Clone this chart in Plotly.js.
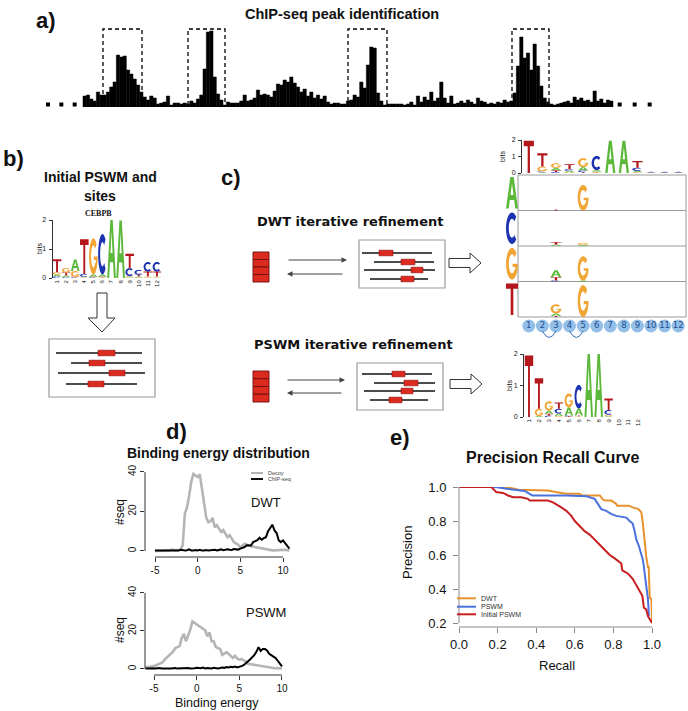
<!DOCTYPE html>
<html>
<head>
<meta charset="utf-8">
<script src="https://cdn.plot.ly/plotly-3.0.1.min.js"></script>
<style>html,body{margin:0;padding:0;background:#ffffff;}#chart{width:688px;height:711px;}</style>
</head>
<body>
<div id="chart"></div>
<script>
// ================= DATA =================
// a) ChIP-seq read pile-up (arbitrary counts per bin)
const peakCounts=[11,12,8,6,15,12,12,15,20,25,52,50,51,37,33,28,22,15,10,7,11,9,3,4,5,11,2,4,4,3,4,3,6,4,8,12,38,75,76,30,13,7,2,5,4,4,4,6,12,6,7,9,17,12,13,12,10,16,23,22,27,25,30,24,20,15,18,11,15,9,12,8,11,5,3,4,4,3,3,6,7,12,10,25,19,42,60,59,14,6,2,3,3,3,3,3,2,3,5,2,11,5,10,7,15,6,9,25,9,4,11,3,4,6,4,7,5,3,9,6,5,3,4,3,5,4,7,5,6,14,41,70,49,54,37,63,41,21,9,5,3,2,3,4,5,6,4,10,7,9,6,7,5,16,6,8,4,7,6];
// identified peak windows (bin index start, end)
const peakWindows=[[5.5,17.2],[31.0,42.1],[79.0,90.7],[128.2,139.3]];

const logoPositions=[1,2,3,4,5,6,7,8,9,10,11,12];
const letters=['A','C','G','T'];

// b) initial PSWM (CEBPB), information (bits) per letter
const cebpbA=[0.07,0.06,0.40,0.02,0.08,0.08,2.00,1.98,0.03,0.03,0.02,0.02];
const cebpbC=[0.05,0.03,0.02,0.10,0.02,1.40,0.00,0.00,0.28,0.17,0.33,0.33];
const cebpbG=[0.08,0.15,0.20,0.02,1.25,0.02,0.00,0.00,0.03,0.02,0.03,0.03];
const cebpbT=[0.45,0.10,0.02,1.20,0.02,0.02,0.00,0.00,0.50,0.06,0.17,0.17];

// c) DWT refined logo
const dwtA=[0.00,0.05,0.15,0.08,0.20,0.10,1.95,1.95,0.08,0.02,0.02,0.02];
const dwtC=[0.00,0.05,0.06,0.10,0.10,0.85,0.00,0.00,0.20,0.02,0.02,0.02];
const dwtG=[0.00,0.30,0.28,0.05,0.55,0.04,0.00,0.00,0.04,0.02,0.02,0.02];
const dwtT=[1.95,0.80,0.10,0.30,0.05,0.04,0.00,0.00,0.40,0.02,0.02,0.02];

// c) DWT dependency rows: [row letter at position 1, position, letter, height (fraction of row)]
const dwtDepRows=['A','C','G','T'];
const dwtDepCells=[
 ['A',3,'T',0.03],['A',5,'G',0.72],
 ['C',3,'A',0.04],['C',3,'T',0.07],['C',5,'A',0.03],['C',5,'G',0.06],
 ['G',3,'C',0.03],['G',3,'T',0.09],['G',3,'A',0.20],['G',5,'A',0.03],['G',5,'G',0.68],
 ['T',3,'T',0.03],['T',3,'A',0.07],['T',3,'G',0.26],['T',5,'G',0.90]
];
const dwtDepArcs=[[2,3],[4,5]];

// c) PSWM refined logo
const pswmA=[0.00,0.03,0.10,0.08,0.25,0.22,2.00,2.00,0.02,0,0,0];
const pswmC=[0.00,0.00,0.04,0.15,0.03,0.75,0,0,0.15,0,0,0];
const pswmG=[0.00,0.23,0.30,0.03,0.45,0.02,0,0,0.05,0,0,0];
const pswmT=[1.95,0.97,0.06,0.20,0.02,0.03,0,0,0.37,0,0,0];

// d) binding energy distributions
const energyDwt=[-5,-4.75,-4.5,-4.25,-4,-3.75,-3.5,-3.25,-3,-2.75,-2.5,-2.25,-2,-1.75,-1.5,-1.25,-1,-0.75,-0.5,-0.25,0,0.25,0.5,0.75,1,1.25,1.5,1.75,2,2.25,2.5,2.75,3,3.25,3.5,3.75,4,4.25,4.5,4.75,5,5.25,5.5,5.75,6,6.25,6.5,6.75,7,7.25,7.5,7.75,8,8.25,8.5,8.75,9,9.25,9.5,9.75,10,10.25,10.5,10.75];
const decoyDwt=[0,0,0.2,0.1,0.3,0.2,0.4,0.3,0.8,0.4,0.5,0.4,0.8,3,19,22,28,35,39,38,37.5,38.8,31,24,17,14.5,15,16.8,12,13,11,9.6,10.6,9,7,8,6,4.5,3.8,3.2,1.7,2.5,3.7,3.2,2.6,2.4,2.2,2,1.7,1.4,1.2,1,0.8,0.6,0.3,0.3,0.3,0.4,0.3,0.5,0.7,0.6,0.4,0.3];
const chipDwt=[0.2,0.2,0.3,0.2,0.3,0.2,0.4,0.3,0.2,0.5,0.3,0.2,0.6,0.3,0.2,0.4,0.8,0.3,0.2,0.5,0.3,0.6,0.2,0.3,0.5,0.2,0.4,0.3,0.6,0.3,0.5,0.8,0.4,0.5,0.9,0.6,0.5,1.0,0.8,0.7,1.2,1.5,2.0,2.9,3.0,2.8,4.5,5.2,5.5,6.7,5.7,6.5,7.0,10,11.5,13.3,10.5,9.1,5.4,4.5,5.4,4.0,2.9,1.2];
const energyPswm=[-6,-5.75,-5.5,-5.25,-5,-4.75,-4.5,-4.25,-4,-3.75,-3.5,-3.25,-3,-2.75,-2.5,-2.25,-2,-1.75,-1.5,-1.25,-1,-0.75,-0.5,-0.25,0,0.25,0.5,0.75,1,1.25,1.5,1.75,2,2.25,2.5,2.75,3,3.25,3.5,3.75,4,4.25,4.5,4.75,5,5.25,5.5,5.75,6,6.25,6.5,6.75,7,7.25,7.5,7.75,8,8.25,8.5,8.75,9,9.25,9.5,9.75,10];
const decoyPswm=[1,1,1.2,1.4,1.5,2,2.5,2.8,3.5,4.9,6,7.5,8.5,9.3,11,11.5,12,16.3,18.5,14.6,17.2,20.7,25,24.2,23.2,22.5,21.6,21,20.4,17.2,19.3,14.6,14.6,11.5,11,10.5,7.5,8.3,8.8,7.9,6.8,5.8,7,5.5,4.9,5.3,4.5,4,2.8,2.6,2.3,2,1.8,1.5,1.4,1.2,1.1,1,0.8,0.6,0.5,0.4,0.3,0.3,0.3];
const chipPswm=[0.3,0.2,0.3,0.4,0.2,0.3,0.5,0.2,0.3,0.2,0.4,0.3,0.2,0.3,0.5,0.2,0.3,0.4,0.2,0.3,0.5,0.3,0.2,0.4,0.6,0.3,0.4,0.8,0.3,0.5,0.4,0.3,0.6,0.4,0.3,0.5,0.8,0.6,1.0,0.8,1.2,0.9,1.3,0.8,1.0,1.5,2.0,2.8,4.0,5.0,6.0,7.3,9.0,11.5,9.5,10.5,10.5,9.8,8.0,7.0,6.5,5.8,4.5,3.0,1.4];

// e) precision-recall curves
const prRecallDwt=[0,0.245,0.31,0.46,0.5,0.556,0.625,0.64,0.73,0.746,0.76,0.79,0.815,0.82,0.88,0.9,0.93,0.945,0.953,0.958,0.962,0.97,0.979,0.983,0.988,0.997,1.0];
const prPrecisionDwt=[1,1,0.984,0.98,0.97,0.96,0.96,0.95,0.95,0.926,0.92,0.92,0.90,0.89,0.89,0.88,0.87,0.85,0.785,0.73,0.67,0.59,0.53,0.53,0.35,0.34,0.2];
const prRecallPswm=[0,0.19,0.245,0.31,0.34,0.366,0.38,0.556,0.66,0.703,0.72,0.737,0.763,0.79,0.815,0.867,0.884,0.9,0.91,0.919,0.933,0.945,0.953,0.958,0.967,0.97,0.979,0.984];
const prPrecisionPswm=[1,1,0.99,0.984,0.977,0.96,0.95,0.95,0.945,0.93,0.9,0.87,0.86,0.84,0.83,0.82,0.8,0.785,0.74,0.69,0.65,0.6,0.57,0.53,0.42,0.42,0.34,0.24];
const prRecallInit=[0,0.168,0.193,0.228,0.254,0.28,0.323,0.357,0.366,0.46,0.487,0.504,0.53,0.556,0.582,0.6,0.625,0.651,0.677,0.703,0.729,0.755,0.781,0.807,0.841,0.846,0.876,0.9,0.919,0.936,0.95,0.958,0.97,0.979,0.997,1.0];
const prPrecisionInit=[1,1,0.97,0.965,0.95,0.94,0.94,0.93,0.92,0.92,0.91,0.9,0.88,0.86,0.83,0.8,0.77,0.74,0.72,0.69,0.66,0.63,0.6,0.58,0.55,0.51,0.49,0.46,0.42,0.39,0.36,0.29,0.28,0.24,0.21,0.2];
const prNames=['DWT','PSWM','Initial PSWM'];

// ================= DRAWING =================
const W=688,H=711;
const X=p=>p/W, Y=p=>1-p/H;
const dx=(a,b)=>[a/W,b/W];
const dy=(bottom,top)=>[1-bottom/H,1-top/H];
const FS='Liberation Sans, Arial, Helvetica, sans-serif';
const FV='DejaVu Sans, Verdana, sans-serif';
const COL={A:'#5cb83a',C:'#1c32b0',G:'#f1a535',T:'#b3161b'};
const S=[],A=[];
const f=v=>(+v).toFixed(5);

function arcPts(a0,a1,rx,ry,n){const p=[];for(let k=0;k<=n;k++){const t=(a0+(a1-a0)*k/n)*Math.PI/180;p.push([0.5+rx*Math.cos(t),0.5+ry*Math.sin(t)]);}return p;}
const GLYPHS={
 T:[[[0,1],[1,1],[1,0.83],[0.61,0.83],[0.61,0],[0.39,0],[0.39,0.83],[0,0.83]]],
 A:[[[0,0],[0.36,1],[0.64,1],[1,0],[0.77,0],[0.68,0.27],[0.32,0.27],[0.23,0]],[[0.38,0.43],[0.62,0.43],[0.5,0.8]]],
 C:[arcPts(45,315,0.5,0.5,30).concat(arcPts(315,45,0.27,0.3,30))],
 G:[arcPts(42,360,0.5,0.5,30).concat([[0.55,0.5],[0.55,0.40],[0.78,0.40],[0.78,0.32]]).concat(arcPts(322,42,0.27,0.3,30))]
};
function glyphPath(l,x0,x1,y0,y1){
 return GLYPHS[l].map(poly=>poly.map((p,k)=>(k?'L':'M')+f(x0+p[0]*(x1-x0))+','+f(y0+p[1]*(y1-y0))).join('')+'Z').join('');
}
function glyph(l,x0,x1,y0,y1,xref,yref,color){
 S.push({type:'path',xref:xref,yref:yref,path:glyphPath(l,x0,x1,y0,y1),fillcolor:color||COL[l],line:{width:0},layer:'above'});
}
function logo(H4,xref,yref,wf){
 logoPositions.forEach((pos,i)=>{
  const st=letters.map(l=>[l,H4[l][i]]).filter(e=>e[1]>0.004).sort((a,b)=>a[1]-b[1]);
  let y=0;
  st.forEach(([l,h])=>{glyph(l,pos-wf/2,pos+wf/2,y,y+h,xref,yref);y+=h;});
 });
}
function txt(text,x,y,size,o){
 o=o||{};
 const font=Object.assign({size:size,color:'#111',family:FS},o.font||{});
 const a=Object.assign({text:text,x:X(x),y:Y(y),xref:'paper',yref:'paper',showarrow:false,xanchor:'center',yanchor:'middle'},o);
 a.font=font;A.push(a);
}
function polyPx(pts,fill,lc,lw){
 S.push({type:'path',xref:'paper',yref:'paper',path:pts.map((p,k)=>(k?'L':'M')+f(X(p[0]))+','+f(Y(p[1]))).join('')+'Z',fillcolor:fill,line:{color:lc,width:lw}});
}
function rectPx(x0,y0,x1,y1,fill,lc,lw){
 S.push({type:'rect',xref:'paper',yref:'paper',x0:X(x0),x1:X(x1),y0:Y(y1),y1:Y(y0),fillcolor:fill,line:{color:lc,width:lw}});
}
function linePx(x0,y0,x1,y1,c,w,dash){
 S.push({type:'line',xref:'paper',yref:'paper',x0:X(x0),y0:Y(y0),x1:X(x1),y1:Y(y1),line:{color:c,width:w,dash:dash||'solid'}});
}
function sitesBox(bx0,by0,bx1,by1,lines){
 rectPx(bx0,by0,bx1,by1,'rgba(0,0,0,0)','#9a9a9a',1.2);
 lines.forEach(L=>{linePx(L[0],L[2],L[1],L[2],'#111',1.6);rectPx(L[3],L[2]-2.8,L[4],L[2]+2.8,'#dc2a1f','#8a0f0f',0.6);});
}
function arrowRight(x0,yc){polyPx([[x0,yc-4.5],[x0+21,yc-4.5],[x0+21,yc-10],[x0+32,yc],[x0+21,yc+10],[x0+21,yc+4.5],[x0,yc+4.5]],'#ffffff','#333',1);}
function thinArrow(xh,y,len){A.push({x:X(xh),y:Y(y),xref:'paper',yref:'paper',ax:-len,ay:0,axref:'pixel',ayref:'pixel',showarrow:true,arrowhead:2,arrowsize:1.1,arrowwidth:1,arrowcolor:'#444',text:''});}
function redStack(x0,y0,x1,y1){const h=(y1-y0)/4;for(let k=0;k<4;k++)rectPx(x0,y0+k*h,x1,y0+(k+1)*h,'#dc2a1f','#6e0c0c',0.9);}

// ---------- a) ----------
txt('<b>a)</b>',46,20,22);
txt('<b>ChIP-seq peak identification</b>',342,14,14.5);
peakWindows.forEach(w=>S.push({type:'rect',xref:'x',yref:'y',x0:w[0],x1:w[1],y0:0,y1:78,line:{color:'#000',width:1.3,dash:'4px,3px'},fillcolor:'rgba(0,0,0,0)'}));
const ellipsisX=[-11,-7,-3,peakCounts.length+1.5,peakCounts.length+6,peakCounts.length+10.5];

// ---------- b) ----------
txt('<b>b)</b>',13,158,22);
txt('<b>Initial PSWM and</b>',100,177,14);
txt('<b>sites</b>',100,196,14);
txt('<b>CEBPB</b>',98,214,8,{font:{family:'Liberation Serif, DejaVu Serif, serif'}});
txt('bits',40,249,7,{textangle:-90});
logo({A:cebpbA,C:cebpbC,G:cebpbG,T:cebpbT},'x2','y2',0.95);
polyPx([[97,293],[107,293],[107,318],[115,318],[102,332],[88,318],[97,318]],'#ffffff','#333',1);
sitesBox(49,339,155,397,[[56,142,353,98,115],[71,142,363,89,105],[58,145,373,109,125],[66,137,384,88,104]]);

// ---------- c) ----------
txt('<b>c)</b>',231,177,22);
txt('<b>DWT iterative refinement</b>',350,221,13,{font:{family:FV}});
txt('<b>PSWM iterative refinement</b>',353,344,13,{font:{family:FV}});
redStack(253,252,269,282);
redStack(253,371,269,402);
thinArrow(347,260,60);thinArrow(287,274,-57);
thinArrow(345,380,59);thinArrow(287,393,-56);
sitesBox(359,240,445,288,[[362,432,253,379,393],[374,434,262,401,415],[364,435,270,411,423],[370,428,279,401,414]]);
sitesBox(357,363,443,410,[[362,432,374,392,405],[374,435,383,404,418],[364,435,391,401,413],[370,428,400,389,402]]);
arrowRight(449,263);
arrowRight(450,384);
// DWT logo
txt('bits',502,157,7,{textangle:-90});
logo({A:dwtA,C:dwtC,G:dwtG,T:dwtT},'x3','y3',0.75);
// dependency matrix
const mTop=175,mBot=317,rowH=(mBot-mTop)/4;
rectPx(518,mTop,686,mBot,'rgba(0,0,0,0)','#9a9a9a',1);
for(let r=1;r<4;r++)linePx(518,mTop+r*rowH,686,mTop+r*rowH,'#9a9a9a',1);
dwtDepRows.forEach((l,r)=>glyph(l,X(506),X(518),Y(mTop+(r+1)*rowH-2),Y(mTop+r*rowH+2),'paper','paper'));
dwtDepRows.forEach((rl,r)=>{
 const base=3-r;
 logoPositions.forEach(pos=>{
  const st=dwtDepCells.filter(c=>c[0]===rl&&c[1]===pos).map(c=>[c[2],c[3]]).sort((a,b)=>a[1]-b[1]);
  let y=base;
  st.forEach(([l,h])=>{glyph(l,pos-0.4,pos+0.4,y,y+h,'x3','y4');y+=h;});
 });
});
// dependency arcs under the position circles
const colPx=p=>522+(p-0.5)*(163/12);
dwtDepArcs.forEach(([a,b])=>{
 const x0=colPx(a),x1=colPx(b);
 S.push({type:'path',xref:'paper',yref:'paper',path:'M'+f(X(x0))+','+f(Y(331))+'Q'+f(X((x0+x1)/2))+','+f(Y(344))+' '+f(X(x1))+','+f(Y(331)),line:{color:'#3b6fb8',width:1},fillcolor:'rgba(0,0,0,0)'});
});
// PSWM logo
txt('bits',510,386,7,{textangle:-90});
logo({A:pswmA,C:pswmC,G:pswmG,T:pswmT},'x5','y5',0.85);

// ---------- d) ----------
txt('<b>d)</b>',176,431,22);
txt('<b>Binding energy distribution</b>',218,453,14);
txt('#seq',120,512,12,{textangle:-90});
txt('#seq',120,630,12,{textangle:-90});
txt('DWT',266,503,13);
txt('PSWM',266,612,13);
txt('Binding energy',217,703,12.5);
linePx(251,473,263,473,'#b3b3b3',2);txt('Decoy',266,473,5.5,{xanchor:'left',font:{color:'#444'}});
linePx(251,479,263,479,'#111',2);txt('ChIP-seq',266,479,5.5,{xanchor:'left',font:{color:'#444'}});
S.push({type:'line',xref:'x6',yref:'paper',x0:-5,x1:10,y0:Y(557),y1:Y(557),line:{color:'#333',width:1}});
S.push({type:'line',xref:'paper',yref:'y6',x0:X(145),x1:X(145),y0:0,y1:40,line:{color:'#333',width:1}});
S.push({type:'line',xref:'x7',yref:'paper',x0:-5,x1:10,y0:Y(675),y1:Y(675),line:{color:'#333',width:1}});
S.push({type:'line',xref:'paper',yref:'y7',x0:X(145),x1:X(145),y0:0,y1:40,line:{color:'#333',width:1}});

// ---------- e) ----------
txt('<b>e)</b>',400,437,22);
txt('<b>Precision Recall Curve</b>',553,457,16);
txt('Precision',407,553,13,{textangle:-90});
txt('Recall',557,665,13);
S.push({type:'line',xref:'x8',yref:'paper',x0:0,x1:1,y0:Y(627),y1:Y(627),line:{color:'#888',width:1}});
S.push({type:'line',xref:'paper',yref:'y8',x0:X(459),x1:X(459),y0:0.2,y1:1.0,line:{color:'#888',width:1}});
const prColors=['#e8922e','#4a72de','#c81e22'];
[598.3,606.7,614.3].forEach((yy,k)=>{linePx(457,yy,476,yy,prColors[k],2);txt(prNames[k],479,yy,7,{xanchor:'left',font:{color:'#333'}});});

// ================= TRACES =================
const traces=[
 {type:'bar',x:peakCounts.map((_,i)=>i),y:peakCounts,xaxis:'x',yaxis:'y',width:1,marker:{color:'#000',line:{color:'#000',width:0.5}},hoverinfo:'skip'},
 {type:'scatter',mode:'markers',x:ellipsisX,y:ellipsisX.map(()=>2.5),xaxis:'x',yaxis:'y',marker:{symbol:'square',size:4,color:'#000'},cliponaxis:false},
 {type:'scatter',mode:'markers',x:[],y:[],xaxis:'x2',yaxis:'y2'},
 {type:'scatter',mode:'markers',x:[],y:[],xaxis:'x3',yaxis:'y3'},
 {type:'scatter',mode:'markers',x:[],y:[],xaxis:'x3',yaxis:'y4'},
 {type:'scatter',mode:'markers+text',x:logoPositions,y:logoPositions.map(()=>0.5),text:logoPositions.map(String),textposition:'middle center',textfont:{size:8.5,color:'#1f4e8c',family:FV},xaxis:'x9',yaxis:'y9',marker:{size:13,color:'#93bfe8',line:{width:0}},cliponaxis:false},
 {type:'scatter',mode:'markers',x:[],y:[],xaxis:'x5',yaxis:'y5'},
 {type:'scatter',mode:'lines',x:energyDwt,y:decoyDwt,xaxis:'x6',yaxis:'y6',line:{color:'#b5b5b5',width:2.6},cliponaxis:false},
 {type:'scatter',mode:'lines',x:energyDwt,y:chipDwt,xaxis:'x6',yaxis:'y6',line:{color:'#000',width:2},cliponaxis:false},
 {type:'scatter',mode:'lines',x:energyPswm,y:decoyPswm,xaxis:'x7',yaxis:'y7',line:{color:'#b5b5b5',width:2.6},cliponaxis:false},
 {type:'scatter',mode:'lines',x:energyPswm,y:chipPswm,xaxis:'x7',yaxis:'y7',line:{color:'#000',width:2},cliponaxis:false},
 {type:'scatter',mode:'lines',name:prNames[0],x:prRecallDwt,y:prPrecisionDwt,xaxis:'x8',yaxis:'y8',line:{color:prColors[0],width:2},cliponaxis:false},
 {type:'scatter',mode:'lines',name:prNames[1],x:prRecallPswm,y:prPrecisionPswm,xaxis:'x8',yaxis:'y8',line:{color:prColors[1],width:2},cliponaxis:false},
 {type:'scatter',mode:'lines',name:prNames[2],x:prRecallInit,y:prPrecisionInit,xaxis:'x8',yaxis:'y8',line:{color:prColors[2],width:2},cliponaxis:false}
];

const AX={showgrid:false,zeroline:false,fixedrange:true,showline:false};
const logoX={...AX,range:[0.5,12.5],tickmode:'array',tickvals:logoPositions,ticktext:logoPositions.map(String),tickangle:-90,tickfont:{size:6,color:'#111',family:FS},ticks:''};
const logoY={...AX,range:[0,2],tickmode:'array',tickvals:[0,1,2],ticks:'outside',ticklen:3,tickcolor:'#333',tickfont:{size:7,color:'#111',family:FS},showline:true,linecolor:'#333',linewidth:1,ticklabelstandoff:1};
const dX={...AX,tickmode:'array',tickvals:[-5,0,5,10],ticktext:['-5','0','5','10'],ticks:'outside',ticklen:4,tickcolor:'#333',tickfont:{size:10,color:'#111',family:FS}};
const dY={...AX,tickmode:'array',tickvals:[0,20,40],ticks:'outside',ticklen:4,tickcolor:'#333',tickangle:-90,tickfont:{size:10,color:'#111',family:FS}};

const layout={
 width:W,height:H,margin:{l:0,r:0,t:0,b:0,pad:0},paper_bgcolor:'#ffffff',plot_bgcolor:'rgba(0,0,0,0)',
 showlegend:false,bargap:0,font:{family:FS,size:10,color:'#111'},shapes:S,annotations:A,
 xaxis:{...AX,domain:dx(44.67,658),range:[-12,172],visible:false,anchor:'y'},
 yaxis:{...AX,domain:dy(107,27),range:[0,80],visible:false,anchor:'x'},
 xaxis2:{...logoX,domain:dx(52.5,161.5),anchor:'y2'},
 yaxis2:{...logoY,domain:dy(278,220),anchor:'x2'},
 xaxis3:{...AX,domain:dx(522,685),range:[0.5,12.5],visible:false,anchor:'y3'},
 yaxis3:{...logoY,domain:dy(173,140),anchor:'x3'},
 yaxis4:{...AX,domain:dy(317,175),range:[0,4],visible:false,anchor:'x3'},
 xaxis9:{...AX,domain:dx(522,685),range:[0.5,12.5],visible:false,anchor:'y9'},
 yaxis9:{...AX,domain:dy(334,318),range:[0,1],visible:false,anchor:'x9'},
 xaxis5:{...logoX,domain:dx(524,643.5),anchor:'y5'},
 yaxis5:{...logoY,domain:dy(417,354),anchor:'x5'},
 xaxis6:{...dX,domain:dx(145,290),range:[-6.172,10.82],anchor:'y6'},
 yaxis6:{...dY,domain:dy(557,470),range:[-3.04,41.0],anchor:'x6'},
 xaxis7:{...dX,domain:dx(145,290),range:[-6.055,10.94],anchor:'y7'},
 yaxis7:{...dY,domain:dy(675,588),range:[-3.16,42.6],anchor:'x7'},
 xaxis8:{...AX,domain:dx(459,652),range:[0,1],anchor:'y8',tickmode:'array',tickvals:[0,0.2,0.4,0.6,0.8,1.0],ticktext:['0.0','0.2','0.4','0.6','0.8','1.0'],ticks:'outside',ticklen:5,tickcolor:'#888',tickfont:{size:13,color:'#111',family:FS}},
 yaxis8:{...AX,domain:dy(627,487),range:[0.1765,1.0],anchor:'x8',tickmode:'array',tickvals:[0.2,0.4,0.6,0.8,1.0],ticktext:['0.2','0.4','0.6','0.8','1.0'],ticks:'outside',ticklen:5,tickcolor:'#888',tickfont:{size:13,color:'#111',family:FS},ticklabelstandoff:4}
};

Plotly.newPlot('chart',traces,layout,{staticPlot:true,displayModeBar:false});
</script>
</body>
</html>
